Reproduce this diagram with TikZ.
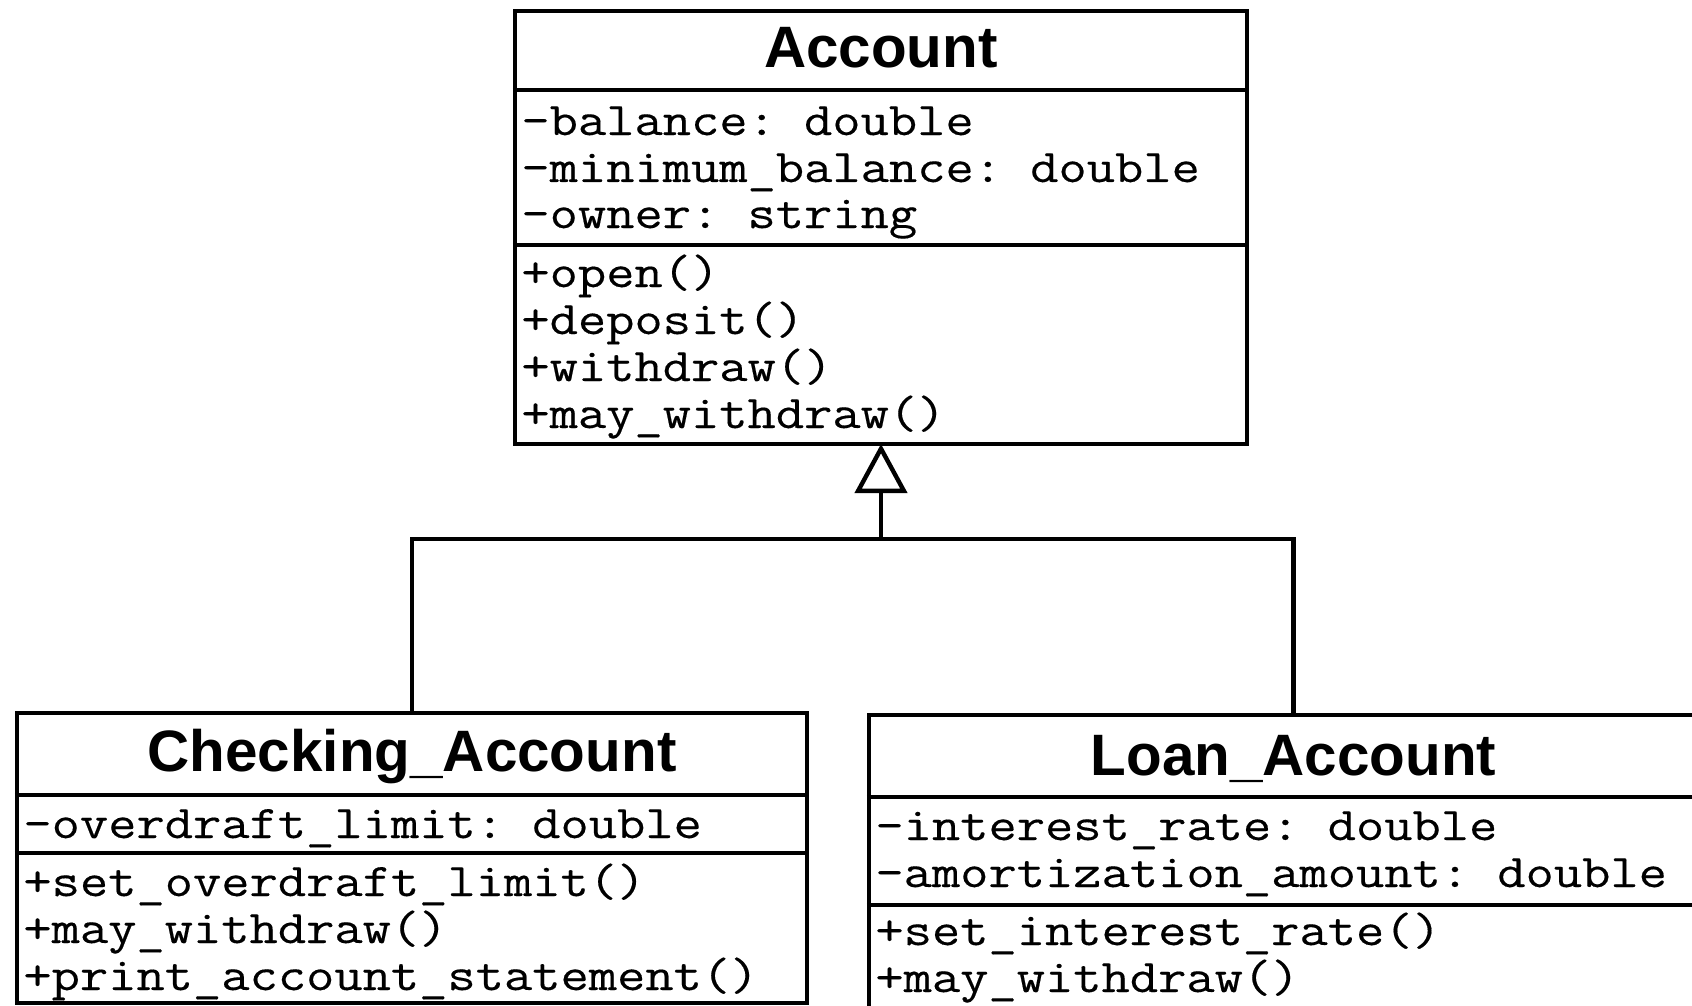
\documentclass[tikz,border=0pt]{standalone}
\usepackage{fontspec}
\setmainfont{Liberation Sans}
\setmonofont{Latin Modern Mono}[FakeStretch=1.173, FakeBold=0.3]
\newfontfamily\umltitle{Liberation Sans}
\usetikzlibrary{arrows.meta}
\tikzset{
  umlbox/.style={draw, line width=2.2pt, inner sep=0pt, fill=white},
  umldiv/.style={line width=2.2pt},
  umltext/.style={anchor=base west, inner sep=0pt, font=\ttfamily\fontsize{23.4}{23.4}\selectfont},
  umlname/.style={anchor=base, inner sep=0pt, font=\umltitle\bfseries\fontsize{29.2}{29.2}\selectfont},
  inherit/.style={line width=2.2pt, line join=miter, shorten >=-1.1pt, -{Triangle[open, length=24.5pt, width=26pt]}}
}
\begin{document}
\begin{tikzpicture}[x=0.5pt, y=-0.5pt]
\useasboundingbox (0,0) rectangle (1692,1006);
\clip (0,0) rectangle (1692,1006);
\fill[white] (0,0) rectangle (1692,1006);

% Account
\node[umlbox, minimum width=366pt, minimum height=216.5pt] (acc) at (881,227.5) {};
\draw[umldiv] (acc.west |- 0,90) -- (acc.east |- 0,90);
\draw[umldiv] (acc.west |- 0,245) -- (acc.east |- 0,245);
\node[umlname] (accname) at (881,68) {Account};
\node[umltext] (a1) at (521,135) {-balance: double};
\node[umltext] (a2) at (521,182) {-minimum\_balance: double};
\node[umltext] (a3) at (521,228) {-owner: string};
\node[umltext] (a4) at (521,287) {+open()};
\node[umltext] (a5) at (521,334) {+deposit()};
\node[umltext] (a6) at (521,381) {+withdraw()};
\node[umltext] (a7) at (521,428) {+may\_withdraw()};

% Checking_Account
\node[umlbox, minimum width=395pt, minimum height=145pt] (chk) at (412,858) {};
\draw[umldiv] (chk.west |- 0,795) -- (chk.east |- 0,795);
\draw[umldiv] (chk.west |- 0,853) -- (chk.east |- 0,853);
\node[umlname] (chkname) at (412,771) {Checking\_Account};
\node[umltext] (c1) at (23,838) {-overdraft\_limit: double};
\node[umltext] (c2) at (23,896) {+set\_overdraft\_limit()};
\node[umltext] (c3) at (23,943) {+may\_withdraw()};
\node[umltext] (c4) at (23,990) {+print\_account\_statement()};

% Loan_Account
\node[umlbox, minimum width=424.5pt, minimum height=195pt] (loan) at (1293.5,910) {};
\draw[umldiv] (loan.west |- 0,797) -- (loan.east |- 0,797);
\draw[umldiv] (loan.west |- 0,905) -- (loan.east |- 0,905);
\node[umlname] (loanname) at (1293.5,775) {Loan\_Account};
\node[umltext] (l1) at (875,840) {-interest\_rate: double};
\node[umltext] (l2) at (875,887) {-amortization\_amount: double};
\node[umltext] (l3) at (875,945) {+set\_interest\_rate()};
\node[umltext] (l4) at (875,992) {+may\_withdraw()};

% generalization
\coordinate (jn) at (881,539);
\draw[line width=2.2pt, line join=miter] (chk.north) |- (jn) -| (loan.north);
\draw[inherit] (jn) -- (acc.south);
\end{tikzpicture}
\end{document}
